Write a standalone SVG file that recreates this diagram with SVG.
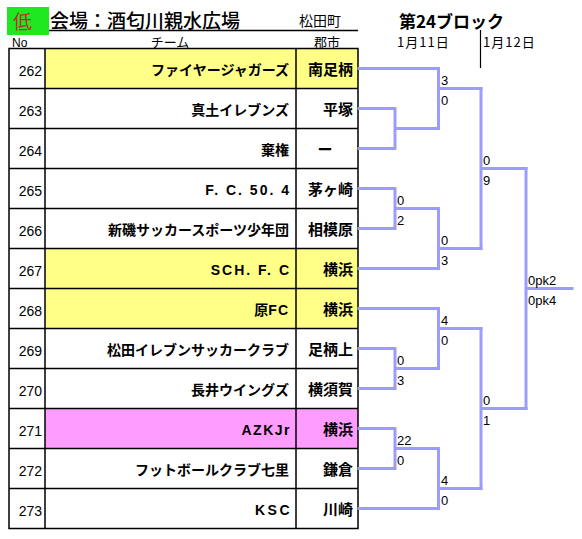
<svg xmlns="http://www.w3.org/2000/svg" width="582" height="539" viewBox="0 0 582 539">
<style>
text{font-family:"Liberation Sans","Noto Sans CJK JP",sans-serif;fill:#000}
.jp{font-family:"Noto Sans CJK JP","Liberation Sans",sans-serif}
.no{font-size:14px;text-anchor:end}
.team{font-size:14px;font-weight:bold;text-anchor:end;font-family:"Noto Sans CJK JP","Liberation Sans",sans-serif}
.lat{font-family:"Liberation Sans","Noto Sans CJK JP",sans-serif;letter-spacing:2px}
.city{font-size:15px;font-weight:bold;text-anchor:end;font-family:"Noto Sans CJK JP","Liberation Sans",sans-serif}
.sc{font-size:13px}
.grid{stroke:#000;stroke-width:1.5;fill:none}
.br{stroke:#9C9CFF;stroke-width:3;fill:none;stroke-linecap:square}
</style>
<rect width="582" height="539" fill="#fff"/>
<g id="header">
<rect x="7" y="7" width="42" height="28" fill="#20E820"/>
<text x="13" y="29" class="jp" style="font-size:19px;fill:#B8302A">低</text>
<text x="50" y="28" class="jp" style="font-size:19px;font-weight:500">会場：酒匂川親水広場</text>
<text x="299" y="26" class="jp" style="font-size:14px">松田町</text>
<line x1="49" y1="30.5" x2="358" y2="30.5" stroke="#000" stroke-width="1.5"/>
<text x="12" y="47" style="font-size:12px">No</text>
<text x="170" y="47" class="jp" style="font-size:13px;text-anchor:middle">チーム</text>
<text x="327" y="47" class="jp" style="font-size:13px;text-anchor:middle">郡市</text>
<text x="399" y="28" class="jp" style="font-size:17px;font-weight:bold">第24ブロック</text>
<text x="397" y="47" class="jp" style="font-size:13px;letter-spacing:1px">1月11日</text>
<text x="483" y="47" class="jp" style="font-size:13px;letter-spacing:1px">1月12日</text>
<line x1="480.5" y1="30" x2="480.5" y2="68" stroke="#000" stroke-width="1.2"/>
</g>
<g id="table">
<rect x="45" y="48.5" width="313" height="40" fill="#FFFF88"/>
<rect x="45" y="248.5" width="313" height="80" fill="#FFFF88"/>
<rect x="45" y="408.5" width="313" height="40" fill="#FF9CFF"/>
<path class="grid" d="M9 48.5H358V528.5H9Z M45 48.5V528.5 M296 48.5V528.5 M9 88.5H358 M9 128.5H358 M9 168.5H358 M9 208.5H358 M9 248.5H358 M9 288.5H358 M9 328.5H358 M9 368.5H358 M9 408.5H358 M9 448.5H358 M9 488.5H358"/>
</g>
<g id="r262"><text class="no" x="42" y="76">262</text><text class="team" x="289" y="75">ファイヤージャガーズ</text><text class="city" x="353" y="75">南足柄</text></g>
<g id="r263"><text class="no" x="42" y="116">263</text><text class="team" x="289" y="115">真土イレブンズ</text><text class="city" x="353" y="115">平塚</text></g>
<g id="r264"><text class="no" x="42" y="156">264</text><text class="team" x="289" y="155">棄権</text><text class="city" x="325" y="155" style="text-anchor:middle">ー</text></g>
<g id="r265"><text class="no" x="42" y="196">265</text><text class="team lat" x="291" y="195">F. C. 50. 4</text><text class="city" x="353" y="195">茅ヶ崎</text></g>
<g id="r266"><text class="no" x="42" y="236">266</text><text class="team" x="289" y="235">新磯サッカースポーツ少年団</text><text class="city" x="353" y="235">相模原</text></g>
<g id="r267"><text class="no" x="42" y="276">267</text><text class="team lat" x="291" y="275">SCH. F. C</text><text class="city" x="353" y="275">横浜</text></g>
<g id="r268"><text class="no" x="42" y="316">268</text><text class="team" x="289" y="315">原<tspan style="font-family:'Liberation Sans',sans-serif;letter-spacing:1px">FC</tspan></text><text class="city" x="353" y="315">横浜</text></g>
<g id="r269"><text class="no" x="42" y="356">269</text><text class="team" x="289" y="355">松田イレブンサッカークラブ</text><text class="city" x="353" y="355">足柄上</text></g>
<g id="r270"><text class="no" x="42" y="396">270</text><text class="team" x="289" y="395">長井ウイングズ</text><text class="city" x="353" y="395">横須賀</text></g>
<g id="r271"><text class="no" x="42" y="436">271</text><text class="team lat" x="291" y="435" style="letter-spacing:1.5px">AZKJr</text><text class="city" x="353" y="435">横浜</text></g>
<g id="r272"><text class="no" x="42" y="476">272</text><text class="team" x="289" y="475">フットボールクラブ七里</text><text class="city" x="353" y="475">鎌倉</text></g>
<g id="r273"><text class="no" x="42" y="516">273</text><text class="team lat" x="292" y="515" style="letter-spacing:2.5px">KSC</text><text class="city" x="353" y="515">川崎</text></g>
<g id="connectors">
<path class="br" d="M359 68.5H438.5V128.5 M359 108.5H395V148.5H359 M395 128.5H438.5 M438.5 88.5H481"/>
<path class="br" d="M359 188.5H395V228.5H359 M395 208.5H438.5 M359 268.5H438.5V208.5 M438.5 248.5H481"/>
<path class="br" d="M481 88.5V248.5 M481 168.5H526"/>
<path class="br" d="M359 308.5H438.5V368.5 M359 348.5H395V388.5H359 M395 368.5H438.5 M438.5 328.5H481"/>
<path class="br" d="M359 428.5H395V468.5H359 M395 448.5H438.5 M359 508.5H438.5V448.5 M438.5 488.5H481"/>
<path class="br" d="M481 328.5V488.5 M481 408.5H526"/>
<path class="br" d="M526 168.5V408.5 M526 288.5H572"/>
</g>
<g id="scores">
<text class="sc" x="441" y="85">3</text><text class="sc" x="441" y="104.5">0</text>
<text class="sc" x="397" y="205">0</text><text class="sc" x="397" y="224.5">2</text>
<text class="sc" x="441" y="245">0</text><text class="sc" x="441" y="264.5">3</text>
<text class="sc" x="483" y="165">0</text><text class="sc" x="483" y="184.5">9</text>
<text class="sc" x="528" y="285">0pk2</text><text class="sc" x="528" y="304.5">0pk4</text>
<text class="sc" x="441" y="325">4</text><text class="sc" x="441" y="344.5">0</text>
<text class="sc" x="397" y="365">0</text><text class="sc" x="397" y="384.5">3</text>
<text class="sc" x="397" y="445">22</text><text class="sc" x="397" y="464.5">0</text>
<text class="sc" x="441" y="485">4</text><text class="sc" x="441" y="504.5">0</text>
<text class="sc" x="483" y="405">0</text><text class="sc" x="483" y="424.5">1</text>
</g>
</svg>
